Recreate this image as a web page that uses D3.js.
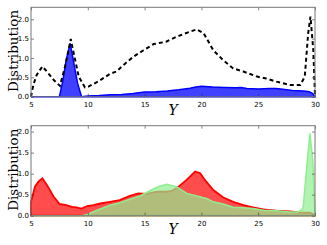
<!DOCTYPE html>
<html>
<head>
<meta charset="utf-8">
<script src="https://cdn.jsdelivr.net/npm/d3@7"></script>
<style>
  body { margin: 0; background: #fff; }
  svg { display: block; }
  .tick text { font-family: "DejaVu Sans", sans-serif; font-size: 7px; fill: #000; }
</style>
</head>
<body>
<script>
// data: [Y, distribution]
let dashedTop = [[5,0],[5.2,0.3],[5.5,0.56],[6.0,0.78],[6.4,0.65],[7.0,0.43],[7.55,0.28],[8.0,0.78],[8.3,1.2],[8.5,1.49],[8.7,1.2],[9.2,0.52],[9.75,0.24],[10.05,0.26],[10.9,0.39],[11.95,0.59],[12.5,0.65],[13.3,0.86],[14.0,1.03],[14.9,1.2],[15.8,1.36],[16.9,1.42],[17.8,1.55],[19.0,1.68],[19.6,1.74],[20.2,1.64],[21.05,1.2],[21.9,0.95],[22.8,0.73],[23.7,0.65],[24.9,0.52],[25.7,0.47],[26.6,0.39],[27.8,0.3],[28.7,0.3],[29.1,0.52],[29.4,1.64],[29.6,2.07],[29.85,1.2],[30,0.04]]
let blueTop = [[5,0],[7.5,0],[7.8,0.4],[8.1,0.95],[8.45,1.38],[8.75,0.9],[9.1,0.35],[9.45,0],[10,0.02],[11,0.03],[12,0.05],[13,0.06],[14,0.08],[15,0.12],[16,0.13],[17,0.15],[18,0.18],[19,0.22],[19.5,0.25],[20,0.27],[21,0.25],[22,0.24],[23,0.23],[23.5,0.24],[24,0.21],[25,0.2],[26,0.21],[26.5,0.21],[27,0.2],[28,0.16],[29,0.15],[29.5,0.13],[29.8,0.08],[30,0]]
let redBottom = [[5,0.33],[5.35,0.69],[5.65,0.81],[6.0,0.89],[6.4,0.73],[7.0,0.45],[7.5,0.28],[8.1,0.25],[8.6,0.21],[9.0,0.2],[9.45,0.17],[9.95,0.23],[10.5,0.25],[11.1,0.29],[11.95,0.33],[12.8,0.37],[13.7,0.47],[14.45,0.53],[15.2,0.52],[16.05,0.57],[16.95,0.57],[17.4,0.59],[17.8,0.65],[18.7,0.85],[19.45,1.05],[19.9,1.01],[20.3,0.85],[21.05,0.61],[21.9,0.44],[22.8,0.33],[23.7,0.25],[24.55,0.2],[25.45,0.15],[26.6,0.12],[27.8,0.1],[28.7,0.07],[29.55,0.07],[30,0.02]]
let greenBottom = [[5,0],[9.5,0],[9.95,0.03],[10.8,0.13],[11.95,0.25],[12.8,0.31],[13.7,0.39],[14.6,0.47],[15.5,0.6],[16.2,0.69],[16.95,0.75],[17.8,0.69],[18.7,0.53],[19.6,0.47],[20.45,0.41],[21.05,0.33],[21.9,0.28],[22.8,0.2],[23.7,0.19],[24.55,0.17],[25.45,0.13],[26.6,0.12],[27.8,0.09],[28.5,0.09],[28.95,0.17],[29.25,1.09],[29.55,1.96],[29.8,1.33],[30,0]]
let xTicks = [5,10,15,20,25,30]
let yTicks = [0,0.5,1.0,1.5,2.0]

let width = 327, height = 245
let left = 31, right = 315

let svg = d3.select("body").append("svg")
            .attr("width", width)
            .attr("height", height)

let x = d3.scaleLinear().domain([5,30]).range([left,right])

function panel(top, bottom, ymax, draw) {
  let y = d3.scaleLinear().domain([0,ymax]).range([bottom,top])
  let g = svg.append("g")

  draw(g, y)

  // inward ticks on all four sides, matplotlib style
  let fmt = d3.format(".1f")
  g.append("g").attr("transform",`translate(0,${bottom})`)
   .call(d3.axisBottom(x).tickValues(xTicks).tickSize(-3).tickPadding(5))
  g.append("g").attr("transform",`translate(0,${top})`)
   .call(d3.axisTop(x).tickValues(xTicks).tickSize(-3).tickFormat(""))
  g.append("g").attr("transform",`translate(${left},0)`)
   .call(d3.axisLeft(y).tickValues(yTicks).tickSize(-3).tickPadding(2).tickFormat(fmt))
  g.append("g").attr("transform",`translate(${right},0)`)
   .call(d3.axisRight(y).tickValues(yTicks).tickSize(-3).tickFormat(""))
  g.selectAll(".domain").remove()
  g.selectAll(".tick line").attr("stroke","#333").attr("stroke-width",0.6)

  g.append("rect")
   .attr("x",left).attr("y",top)
   .attr("width",right-left).attr("height",bottom-top)
   .attr("fill","none").attr("stroke","#777").attr("stroke-width",1)

  g.append("text")
   .attr("transform",`translate(17.5,${(top+bottom)/2 - 1}) rotate(-90)`)
   .attr("text-anchor","middle")
   .style("font-family","'DejaVu Serif', serif")
   .style("font-size","13.5px")
   .text("Distribution")

  g.append("text")
   .attr("x",(left+right)/2).attr("y",bottom+18)
   .attr("text-anchor","middle")
   .style("font-family","'DejaVu Serif', serif")
   .style("font-style","italic")
   .style("font-size","14px")
   .text("Y")
}

let line = function(y) {
  return d3.line().x(d => x(d[0])).y(d => y(d[1]))
}
let area = function(y) {
  return d3.area().x(d => x(d[0])).y0(y(0)).y1(d => y(d[1]))
}

// top panel
panel(7.3, 96.7, 2.31, function(g, y) {
  g.append("path").datum(blueTop)
   .attr("d", area(y))
   .attr("fill","#0000ff").attr("fill-opacity",0.75)
   .attr("stroke","#0000ff").attr("stroke-width",1.5)
  g.append("path").datum(dashedTop)
   .attr("d", line(y))
   .attr("fill","none")
   .attr("stroke","#000").attr("stroke-width",2)
   .attr("stroke-dasharray","4,3")
})

// bottom panel
panel(125.7, 215.7, 2.14, function(g, y) {
  g.append("path").datum(redBottom)
   .attr("d", area(y))
   .attr("fill","#ff0000").attr("fill-opacity",0.7)
   .attr("stroke","#ff0000").attr("stroke-width",1.8)
  g.append("path").datum(greenBottom)
   .attr("d", area(y))
   .attr("fill","#90ee90").attr("fill-opacity",0.7)
   .attr("stroke","#90ee90").attr("stroke-width",1.5)
})
</script>
</body>
</html>
